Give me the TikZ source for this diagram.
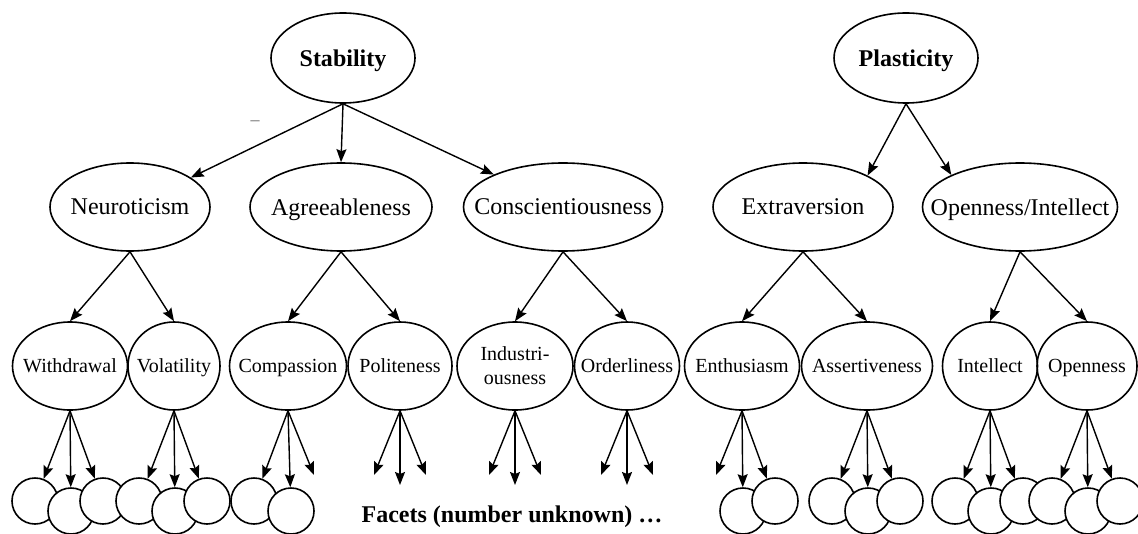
\documentclass[tikz,border=0pt]{standalone}
\usepackage{fontspec}
\setmainfont{Liberation Serif}
\usetikzlibrary{shapes.geometric,arrows.meta}

\begin{document}
\begin{tikzpicture}[x=0.5pt,y=-0.5pt,line width=0.8pt,
   traitbox/.style={draw,ellipse,inner sep=0pt,text depth=0pt,
      execute at begin node={\hbox to 0pt\bgroup\hss},
      execute at end node={\hss\egroup}},
   metanode/.style={traitbox,minimum width=72pt,minimum height=45pt,
      font=\fontsize{12}{14}\selectfont\bfseries},
   domainnode/.style={traitbox,minimum height=44pt,font=\fontsize{12}{14}\selectfont},
   aspectnode/.style={traitbox,minimum height=44pt,font=\fontsize{10}{12}\selectfont},
   facetnode/.style={draw,circle,fill=white,minimum size=23pt,inner sep=0pt},
   conn/.style={-{Stealth[length=6.5pt,width=5pt,inset=1pt]},line width=0.7pt}]

   \useasboundingbox (0,0) rectangle (1138,534);
   \clip (0,0) rectangle (1138,534);

   % metatraits
   \node[metanode] (stab) at (343,58) {Stability};
   \node[metanode] (plas) at (906,58) {Plasticity};
   \node[font=\fontsize{9}{10}\selectfont,text=black!60] (minus) at (255,123) {\textendash};

   % big five
   \node[domainnode,minimum width=80pt] (neur) at (130,207) {Neuroticism};
   \node[domainnode,minimum width=91pt] (agree) at (341,207) {Agreeableness};
   \node[domainnode,minimum width=99.5pt] (consc) at (563,207) {Conscientiousness};
   \node[domainnode,minimum width=90pt] (extra) at (803,207) {Extraversion};
   \node[domainnode,minimum width=97.5pt] (openi) at (1020,207) {Openness/Intellect};

   % aspects
   \node[aspectnode,minimum width=57.5pt] (withd) at (70,366) {Withdrawal};
   \node[aspectnode,minimum width=46pt] (vola) at (174,366) {Volatility};
   \node[aspectnode,minimum width=58.5pt] (compa) at (288,366) {Compassion};
   \node[aspectnode,minimum width=52pt] (polit) at (400,366) {Politeness};
   \node[aspectnode,minimum width=58pt,text height=18pt] (indus) at (515,366)
      {\begin{tabular}[b]{@{}c@{}}Industri-\\ousness\end{tabular}};
   \node[aspectnode,minimum width=52.5pt] (order) at (627,366) {Orderliness};
   \node[aspectnode,minimum width=57.5pt] (enthu) at (742,366) {Enthusiasm};
   \node[aspectnode,minimum width=65.5pt] (asser) at (867,366) {Assertiveness};
   \node[aspectnode,minimum width=47.5pt] (intel) at (990,366) {Intellect};
   \node[aspectnode,minimum width=50pt] (openn) at (1087,366) {Openness};

   % facets
   \foreach \n/\c in {withd/70,vola/174}{
      \node[facetnode] (\n1) at (\c-35,501) {};
      \node[facetnode] (\n2) at (\c+1,511) {};
      \node[facetnode] (\n3) at (\c+33,501) {};
   }
   \node[facetnode] (compa1) at (254,501) {};
   \node[facetnode] (compa2) at (291,511) {};
   \node[facetnode] (enthu2) at (743,511) {};
   \node[facetnode] (enthu3) at (775,501) {};
   \foreach \n/\c in {asser/867,intel/990,openn/1087}{
      \node[facetnode] (\n1) at (\c-35,501) {};
      \node[facetnode] (\n2) at (\c+1,511) {};
      \node[facetnode] (\n3) at (\c+33,501) {};
   }
   \coordinate (compa3) at (314,475);
   \coordinate (polit1) at (374,475);
   \coordinate (polit2) at (400,485);
   \coordinate (polit3) at (426,475);
   \coordinate (indus1) at (489,475);
   \coordinate (indus2) at (515,485);
   \coordinate (indus3) at (541,475);
   \coordinate (order1) at (601,475);
   \coordinate (order2) at (627,485);
   \coordinate (order3) at (653,475);
   \coordinate (enthu1) at (716,475);

   \node[font=\fontsize{12}{14}\selectfont\bfseries,anchor=base] (facets) at (512,522)
      {Facets (number unknown) \dots};

   % arrows
   \draw[conn] (stab.south) -- (neur);
   \draw[conn] (stab.south) -- (agree.north);
   \draw[conn] (stab.south) -- (consc);
   \draw[conn] (plas.south) -- (extra.26);
   \draw[conn] (plas.south) -- (openi.155);

   \draw[conn] (neur.south) -- (withd.north);
   \draw[conn] (neur.south) -- (vola.north);
   \draw[conn] (agree.south) -- (compa.north);
   \draw[conn] (agree.south) -- (polit.north);
   \draw[conn] (consc.south) -- (indus.north);
   \draw[conn] (consc.south) -- (order.north);
   \draw[conn] (extra.south) -- (enthu.north);
   \draw[conn] (extra.south) -- (asser.north);
   \draw[conn] (openi.south) -- (intel.north);
   \draw[conn] (openi.south) -- (openn.north);

   \foreach \n in {withd,vola,compa,polit,indus,order,enthu,asser,intel,openn}
      \foreach \k in {1,2,3}
         \draw[conn] (\n.south) -- (\n\k);

\end{tikzpicture}
\end{document}
